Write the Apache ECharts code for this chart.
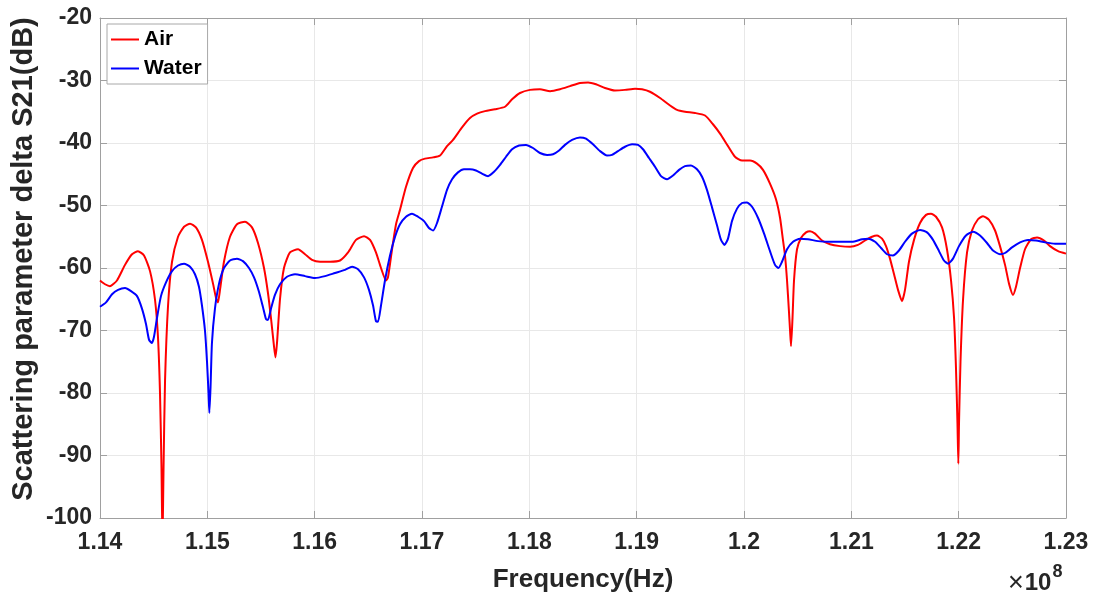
<!DOCTYPE html>
<html>
<head>
<meta charset="utf-8">
<script src="https://cdn.jsdelivr.net/npm/echarts@6/dist/echarts.min.js"></script>
<style>
  html, body { margin: 0; padding: 0; background: #fff; }
  #chart { width: 1095px; height: 592px; }
</style>
</head>
<body>
<div id="chart"></div>
<script>
// Frequency sweep, in MHz (axis shows units of 1e8 Hz)
var airFreq = [114.000,114.047,114.093,114.158,114.233,114.298,114.354,114.410,114.466,114.512,114.540,114.559,114.573,114.582,114.592,114.606,114.634,114.671,114.727,114.783,114.839,114.894,114.950,115.006,115.053,115.081,115.099,115.118,115.155,115.211,115.276,115.351,115.416,115.472,115.528,115.565,115.593,115.621,115.635,115.649,115.677,115.714,115.770,115.845,115.910,115.975,116.050,116.143,116.236,116.311,116.385,116.460,116.516,116.571,116.618,116.665,116.683,116.721,116.758,116.795,116.851,116.916,116.972,117.028,117.103,117.168,117.233,117.289,117.373,117.447,117.513,117.587,117.680,117.773,117.839,117.913,118.006,118.099,118.193,118.286,118.379,118.472,118.547,118.621,118.705,118.798,118.891,118.985,119.050,119.124,119.218,119.311,119.376,119.450,119.544,119.637,119.711,119.777,119.851,119.916,119.982,120.056,120.121,120.177,120.242,120.298,120.336,120.363,120.382,120.401,120.419,120.429,120.438,120.452,120.466,120.494,120.531,120.578,120.615,120.662,120.727,120.801,120.895,120.988,121.062,121.128,121.193,121.239,121.286,121.323,121.360,121.398,121.435,121.472,121.500,121.537,121.584,121.640,121.696,121.742,121.789,121.845,121.891,121.929,121.957,121.975,121.989,121.997,122.003,122.017,122.041,122.078,122.124,122.180,122.227,122.283,122.339,122.385,122.432,122.469,122.506,122.534,122.572,122.618,122.674,122.730,122.795,122.851,122.926,123.000];
var airS21 = [-62.0,-62.6,-62.9,-62.0,-59.5,-57.8,-57.3,-58.0,-60.5,-65,-71,-80,-92,-104,-92,-78,-66,-59,-55,-53.4,-52.9,-53.5,-55.5,-59,-62.5,-64.8,-65.5,-63.5,-59,-55,-53,-52.6,-53.5,-56,-60,-64,-68,-72.5,-74.3,-72,-65,-60,-57.5,-57,-57.8,-58.7,-59,-59,-58.8,-57.5,-55.5,-54.9,-55.5,-57.5,-60,-62,-61.5,-57,-53,-50.7,-47,-44,-42.9,-42.5,-42.3,-42,-40.5,-39.5,-37.5,-36,-35.3,-34.9,-34.6,-34.2,-33,-32,-31.5,-31.4,-31.7,-31.4,-30.9,-30.4,-30.3,-30.6,-31.2,-31.6,-31.5,-31.3,-31.4,-31.8,-32.8,-34,-34.7,-35,-35.2,-35.6,-37,-38.5,-40.5,-42.2,-42.8,-42.8,-43.3,-44.3,-46.5,-49,-52,-55.5,-58,-62,-67,-70,-72.5,-68,-62,-57,-55.2,-54.3,-54.1,-54.5,-55.6,-56.2,-56.5,-56.6,-56.3,-55.6,-55.0,-54.8,-55.3,-56.5,-58.5,-61,-63.5,-65.3,-63.5,-59,-55.5,-52.8,-51.5,-51.3,-51.8,-53.5,-57,-62,-68,-76,-85,-91.3,-85,-75,-65,-57.5,-54,-52.2,-51.7,-52.3,-54,-56.5,-59.5,-62.5,-64.3,-63,-60,-57,-55.4,-55.1,-55.6,-56.5,-57.3,-57.7];

var waterFreq = [114.000,114.056,114.112,114.168,114.233,114.289,114.345,114.391,114.429,114.457,114.484,114.503,114.531,114.568,114.615,114.671,114.727,114.783,114.839,114.885,114.922,114.950,114.978,114.997,115.011,115.019,115.030,115.043,115.071,115.109,115.155,115.211,115.276,115.332,115.388,115.435,115.481,115.519,115.547,115.565,115.593,115.630,115.677,115.742,115.817,115.910,116.003,116.096,116.189,116.283,116.348,116.404,116.460,116.506,116.544,116.571,116.590,116.618,116.655,116.702,116.749,116.795,116.851,116.907,116.963,117.019,117.065,117.103,117.140,117.186,117.233,117.280,117.335,117.391,117.447,117.503,117.559,117.615,117.671,117.727,117.783,117.839,117.904,117.969,118.034,118.099,118.165,118.221,118.277,118.332,118.398,118.472,118.528,118.593,118.659,118.724,118.770,118.826,118.891,118.957,119.013,119.059,119.115,119.171,119.227,119.283,119.339,119.395,119.450,119.506,119.562,119.609,119.655,119.702,119.749,119.786,119.818,119.851,119.888,119.935,119.982,120.028,120.075,120.131,120.187,120.242,120.289,120.321,120.354,120.401,120.457,120.522,120.596,120.690,120.783,120.895,121.006,121.100,121.155,121.221,121.277,121.333,121.388,121.444,121.500,121.565,121.640,121.705,121.761,121.817,121.863,121.901,121.947,122.003,122.068,122.134,122.199,122.264,122.320,122.385,122.432,122.497,122.572,122.646,122.721,122.805,122.898,123.000];
var waterS21 = [-66.2,-65.5,-64.2,-63.5,-63.2,-63.7,-64.5,-66.5,-69,-71.5,-72,-71,-68,-64.5,-62.3,-60.5,-59.6,-59.3,-59.8,-61,-63,-66,-70,-75,-80,-83.2,-79,-72,-66.5,-62.5,-60,-58.8,-58.5,-58.9,-60,-61.5,-63.8,-66.3,-68.2,-68.3,-66.5,-64.3,-62.6,-61.4,-61,-61.3,-61.6,-61.3,-60.8,-60.3,-59.8,-60.2,-61.5,-63.5,-66,-68.5,-68.6,-66,-62,-58,-55,-53,-51.8,-51.3,-51.8,-52.5,-53.6,-54.0,-52.8,-50.2,-47.5,-45.8,-44.7,-44.2,-44.2,-44.4,-44.9,-45.3,-44.6,-43.5,-42.2,-41,-40.4,-40.3,-40.8,-41.6,-41.9,-41.8,-41.2,-40.3,-39.5,-39.1,-39.3,-40.2,-41.3,-42,-41.9,-41.3,-40.6,-40.2,-40.3,-41,-42.4,-43.8,-45.3,-45.8,-45.2,-44.3,-43.7,-43.6,-44.2,-45.4,-47.5,-50.3,-53.2,-55.5,-56.3,-55.3,-52.5,-50.5,-49.6,-49.5,-50.2,-52,-54.5,-57.3,-59.5,-60,-59,-57,-55.8,-55.3,-55.4,-55.7,-55.8,-55.8,-55.8,-55.4,-55.3,-55.8,-56.8,-57.8,-58,-57.2,-55.8,-54.5,-53.9,-54.3,-55.5,-57.3,-58.8,-59.3,-58.5,-56.5,-54.8,-54.2,-54.8,-56,-57.2,-57.8,-57.6,-56.7,-55.9,-55.5,-55.6,-55.9,-56.1,-56.1];

var seriesNames = ['Air', 'Water'];
var xTicksMHz = [114, 115, 116, 117, 118, 119, 120, 121, 122, 123];
var yTicks = [-100, -90, -80, -70, -60, -50, -40, -30, -20];

function pairs(fx, ys) {
  return fx.map(function (f, i) { return [f, ys[i]]; });
}

var textColor = '#262626';
var axisGray = '#a0a0a0';
var fontFam = '"Liberation Sans", Arial, sans-serif';
var lineIcon = 'path://M0,0 L28,0 L28,2 L0,2 Z';

var chart = echarts.init(document.getElementById('chart'), null, { renderer: 'canvas' });

var tickLabel = function (v) {
  return String(Number((v / 100).toFixed(2)));
};

chart.setOption({
  animation: false,
  backgroundColor: '#ffffff',
  grid: { left: 100, right: 29, top: 18, bottom: 74, containLabel: false, outerBoundsMode: 'none' },
  legend: {
    data: [
      { name: seriesNames[0], icon: lineIcon },
      { name: seriesNames[1], icon: lineIcon }
    ],
    orient: 'vertical',
    left: 107,
    top: 24,
    padding: [5, 6, 5, 4],
    itemGap: 8,
    itemWidth: 28,
    itemHeight: 2,
    backgroundColor: '#ffffff',
    borderColor: '#a8a8a8',
    borderWidth: 1,
    textStyle: { fontFamily: fontFam, fontWeight: 'bold', fontSize: 21, lineHeight: 21, color: '#000', padding: [0, 0, 0, 0] }
  },
  xAxis: [{
    type: 'value',
    min: xTicksMHz[0],
    max: xTicksMHz[xTicksMHz.length - 1],
    interval: 1,
    name: 'Frequency(Hz)',
    nameLocation: 'middle',
    nameGap: 49,
    nameTextStyle: { fontFamily: fontFam, fontWeight: 'bold', fontSize: 26, color: textColor },
    axisLine: { show: true, lineStyle: { color: axisGray, width: 1 } },
    axisTick: { show: true, inside: true, length: 7, lineStyle: { color: axisGray } },
    axisLabel: { formatter: tickLabel, fontFamily: fontFam, fontWeight: 'bold', fontSize: 23, color: textColor, margin: 13 },
    splitLine: { show: true, lineStyle: { color: '#e8e8e8', width: 1 } }
  }, {
    type: 'value',
    position: 'top',
    min: xTicksMHz[0],
    max: xTicksMHz[xTicksMHz.length - 1],
    interval: 1,
    axisLine: { show: true, lineStyle: { color: axisGray, width: 1 } },
    axisTick: { show: true, inside: true, length: 7, lineStyle: { color: axisGray } },
    axisLabel: { show: false },
    splitLine: { show: false }
  }],
  yAxis: [{
    type: 'value',
    min: yTicks[0],
    max: yTicks[yTicks.length - 1],
    interval: 10,
    axisLine: { show: true, lineStyle: { color: axisGray, width: 1 } },
    axisTick: { show: true, inside: true, length: 7, lineStyle: { color: axisGray } },
    axisLabel: { fontFamily: fontFam, fontWeight: 'bold', fontSize: 23, color: textColor, margin: 8 },
    splitLine: { show: true, lineStyle: { color: '#e8e8e8', width: 1 } }
  }, {
    type: 'value',
    position: 'right',
    min: yTicks[0],
    max: yTicks[yTicks.length - 1],
    interval: 10,
    axisLine: { show: true, lineStyle: { color: axisGray, width: 1 } },
    axisTick: { show: true, inside: true, length: 7, lineStyle: { color: axisGray } },
    axisLabel: { show: false },
    splitLine: { show: false }
  }],
  graphic: [{
    type: 'text',
    x: 24,
    y: 259,
    rotation: Math.PI / 2,
    style: {
      text: 'Scattering parameter delta S21(dB)',
      fontFamily: fontFam,
      fontWeight: 'bold',
      fontSize: 29,
      fill: textColor,
      align: 'center',
      verticalAlign: 'middle'
    }
  }, {
    type: 'text',
    x: 1008,
    y: 560,
    style: {
      text: '{x|×}{a|10}{b|8}',
      rich: {
        x: { fontFamily: fontFam, fontSize: 27, fontWeight: 'normal', fill: textColor, padding: [10, 1, 0, 0] },
        a: { fontFamily: fontFam, fontSize: 24, fontWeight: 'bold', fill: textColor, padding: [10, 0, 0, 0] },
        b: { fontFamily: fontFam, fontSize: 18, fontWeight: 'bold', fill: textColor, padding: [0, 0, 12, 1] }
      }
    }
  }],
  series: [{
    name: seriesNames[0],
    type: 'line',
    xAxisIndex: 0,
    yAxisIndex: 0,
    data: pairs(airFreq, airS21),
    symbol: 'none',
    clip: true,
    smooth: 0.2,
    lineStyle: { color: '#ff0000', width: 2 },
    itemStyle: { color: '#ff0000' },
    z: 3
  }, {
    name: seriesNames[1],
    type: 'line',
    xAxisIndex: 0,
    yAxisIndex: 0,
    data: pairs(waterFreq, waterS21),
    symbol: 'none',
    clip: true,
    smooth: 0.2,
    lineStyle: { color: '#0000ff', width: 2 },
    itemStyle: { color: '#0000ff' },
    z: 4
  }]
});
</script>
</body>
</html>
